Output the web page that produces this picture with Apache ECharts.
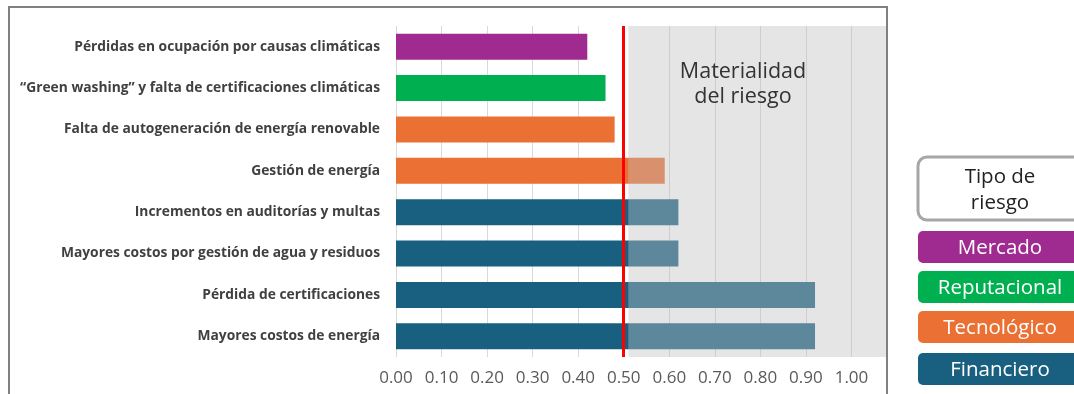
<!DOCTYPE html>
<html>
<head>
<meta charset="utf-8">
<script src="https://cdn.jsdelivr.net/npm/echarts@6/dist/echarts.min.js"></script>
<style>html,body{margin:0;padding:0;background:#fff}#c{width:1074px;height:394px}</style>
</head>
<body>
<div id="c"></div>
<script>
const categories = [
  "Pérdidas en ocupación por causas climáticas",
  "“Green washing” y falta de certificaciones climáticas",
  "Falta de autogeneración de energía renovable",
  "Gestión de energía",
  "Incrementos en auditorías y multas",
  "Mayores costos por gestión de agua y residuos",
  "Pérdida de certificaciones",
  "Mayores costos de energía"
];
const values = [0.42, 0.46, 0.48, 0.59, 0.62, 0.62, 0.92, 0.92];
const riskOfCategory = ["Mercado", "Reputacional", "Tecnológico", "Tecnológico", "Financiero", "Financiero", "Financiero", "Financiero"];
const riskTypes = ["Mercado", "Reputacional", "Tecnológico", "Financiero"];
const xTicks = ["0.00","0.10","0.20","0.30","0.40","0.50","0.60","0.70","0.80","0.90","1.00"];
const threshold = 0.5;
const materialStart = 0.51;
const axisEnd = 1.078;
const legendTitle = "Tipo de\nriesgo";
const areaTitle = "Materialidad\ndel riesgo";

const FONT = "Open Sans";
const riskColor = { "Mercado": "#a02b90", "Reputacional": "#00b050", "Tecnológico": "#ea7133", "Financiero": "#185f80" };

const chart = echarts.init(document.getElementById('c'), null, { renderer: 'canvas' });

const legendGraphics = [];
legendGraphics.push({
  type: 'rect', shape: { x: 918, y: 157, width: 170, height: 63, r: 9 },
  style: { fill: '#fff', stroke: '#a6a6a6', lineWidth: 3 }, z: 10
});
legendGraphics.push({
  type: 'text', x: 1000, y: 190, z: 11,
  style: { text: legendTitle, fill: '#222', font: '20.5px "' + FONT + '"', align: 'center', verticalAlign: 'middle', lineHeight: 26 }
});
const boxTops = [231, 271, 311, 353];
riskTypes.forEach((t, i) => {
  legendGraphics.push({
    type: 'text', x: 1000, y: boxTops[i] + 17.5, z: 11,
    style: { text: t, fill: '#fff', font: '20.5px "' + FONT + '"', align: 'center', verticalAlign: 'middle' }
  });
  legendGraphics.push({
    type: 'rect', shape: { x: 918, y: boxTops[i], width: 170, height: 32, r: 5 },
    style: { fill: riskColor[t] }, z: 10
  });
});

const option = {
  animation: false,
  grid: { left: 396, right: 187, top: 26, bottom: 37, containLabel: false },
  xAxis: {
    type: 'value', min: 0, max: axisEnd, interval: 0.1,
    axisLine: { show: false }, axisTick: { show: false },
    splitLine: { show: true, lineStyle: { color: '#d9d9d9', width: 1 } },
    axisLabel: {
      margin: 13, color: '#5a5a5a', fontSize: 17, fontFamily: FONT,
      showMaxLabel: false,
      formatter: function (v) { const i = Math.round(v * 10); return (Math.abs(v - i / 10) < 1e-6 && i <= 10) ? xTicks[i] : ''; }
    }
  },
  yAxis: {
    type: 'category', data: categories, inverse: true,
    axisLine: { show: false }, axisTick: { show: false }, splitLine: { show: false },
    axisLabel: { margin: 16, color: '#404040', fontSize: 13.8, fontWeight: 'bold', fontFamily: FONT }
  },
  series: [
    {
      type: 'bar', barWidth: 26, z: 2,
      data: values.map((v, i) => ({ value: v, itemStyle: { color: riskColor[riskOfCategory[i]] } })),
      markLine: {
        silent: true, symbol: 'none', z: 6,
        label: { show: false },
        lineStyle: { color: '#ff0000', width: 3, type: 'solid' },
        data: [{ xAxis: threshold }]
      }
    },
    {
      type: 'line', data: categories.map(() => '-'), z: 3, showSymbol: false,
      markArea: {
        silent: true, z: 3,
        itemStyle: { color: 'rgba(192,192,192,0.41)' },
        label: { show: false },
        data: [[{ xAxis: materialStart }, { xAxis: axisEnd }]]
      }
    }
  ],
  graphic: [
    {
      type: 'rect', shape: { x: 9, y: 7, width: 878, height: 400 },
      style: { fill: 'none', stroke: '#808080', lineWidth: 2 }, z: 20, silent: true
    },
    {
      type: 'text', x: 743, y: 84, z: 12,
      style: { text: areaTitle, fill: '#333', font: '21.5px "' + FONT + '"', align: 'center', verticalAlign: 'middle', lineHeight: 25 }
    }
  ].concat(legendGraphics)
};
chart.setOption(option);
</script>
</body>
</html>
